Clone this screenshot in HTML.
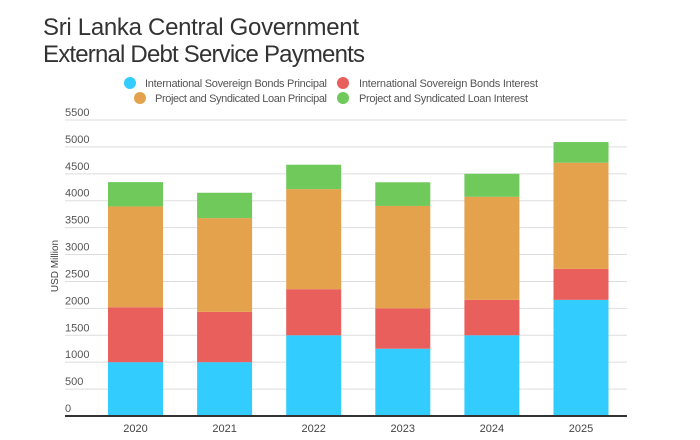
<!DOCTYPE html>
<html><head><meta charset="utf-8"><style>
body{margin:0;background:#fff;}
svg{display:block;font-family:"Liberation Sans",sans-serif;}
</style></head><body>
<svg id="chart" width="700" height="440">
<text x="43" y="35" font-size="24" fill="#333" textLength="316">Sri Lanka Central Government</text>
<text x="43" y="62" font-size="24" fill="#333" textLength="322">External Debt Service Payments</text>
<g>
<g><circle cx="130" cy="83" r="6" fill="#33ccff"/><text x="145" y="87" font-size="11" fill="#555" textLength="182">International Sovereign Bonds Principal</text></g>
<g><circle cx="343" cy="83" r="6" fill="#e85f5c"/><text x="359" y="87" font-size="11" fill="#555" textLength="179">International Sovereign Bonds Interest</text></g>
<g><circle cx="140" cy="98" r="6" fill="#e4a24d"/><text x="155" y="102" font-size="11" fill="#555" textLength="172">Project and Syndicated Loan Principal</text></g>
<g><circle cx="343" cy="98" r="6" fill="#6fc95b"/><text x="359" y="102" font-size="11" fill="#555" textLength="169">Project and Syndicated Loan Interest</text></g>
</g>
<g id="grid"></g><g id="bars"></g><g id="axes"></g>
<text transform="translate(58,266) rotate(-90)" text-anchor="middle" font-size="10" fill="#444">USD Million</text>
</svg>
<script>
const categories=["2020","2021","2022","2023","2024","2025"];
const isbPrincipal=[1000,1000,1500,1250,1500,2158];
const isbInterest=[1020,934,856,750,658,576];
const loanPrincipal=[1874,1743,1860,1903,1915,1972];
const loanInterest=[452,471,453,440,428,384];
const yTicks=[0,500,1000,1500,2000,2500,3000,3500,4000,4500,5000,5500];
const NS="http://www.w3.org/2000/svg";
const y=v=>416-v*(296/5500);
const x=i=>135.5+i*89.1;
const bw=55;
function mk(t,a,p){const e=document.createElementNS(NS,t);for(const k in a)e.setAttribute(k,a[k]);p.appendChild(e);return e;}
const grid=document.getElementById('grid'),bars=document.getElementById('bars'),axes=document.getElementById('axes');
yTicks.forEach(t=>{
 if(t>0){const l=mk('line',{x1:65,x2:627,y1:y(t),y2:y(t),stroke:'#ddd','stroke-width':1},grid);
 
 }
 const tx=mk('text',{x:65,y:y(t)-4,'font-size':11,fill:'#555'},grid);tx.textContent=t;
 
 
});
const series=[[isbPrincipal,'#33ccff','isb-principal'],[isbInterest,'#e85f5c','isb-interest'],[loanPrincipal,'#e4a24d','loan-principal'],[loanInterest,'#6fc95b','loan-interest']];
categories.forEach((c,i)=>{
 let base=0;
 series.forEach(([arr,col,nm])=>{
  const v=arr[i];
  const r=mk('rect',{x:x(i)-bw/2,y:y(base+v),width:bw,height:y(base)-y(base+v),fill:col},bars);
  
  
  base+=v;
 });
 const t=mk('text',{x:x(i),y:432,'text-anchor':'middle','font-size':11,fill:'#444'},axes);t.textContent=c;
 
 
});
const ax=mk('line',{x1:65,x2:627,y1:416,y2:416,stroke:'#333','stroke-width':2},axes);


</script>
</body></html>
